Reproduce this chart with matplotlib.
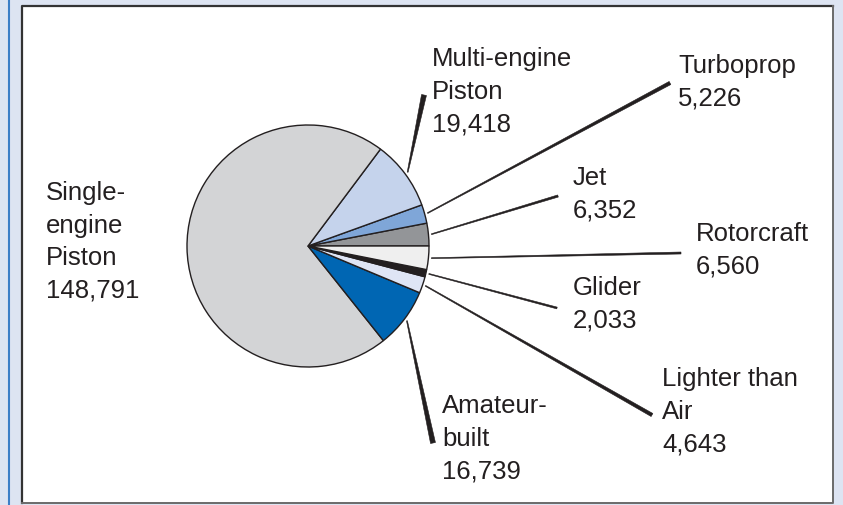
import numpy as np
import matplotlib
matplotlib.use("Agg")
import matplotlib.pyplot as plt
from matplotlib.patches import Rectangle, Polygon

# ---- data ----
categories = ["Jet", "Turboprop", "Multi-engine\nPiston", "Single-\nengine\nPiston",
              "Amateur-\nbuilt", "Lighter than\nAir", "Glider", "Rotorcraft"]
values = [6352, 5226, 19418, 148791, 16739, 4643, 2033, 6560]
value_labels = ["6,352", "5,226", "19,418", "148,791", "16,739", "4,643", "2,033", "6,560"]
colors = ["#939598", "#7fa6d8", "#c5d3ec", "#d3d4d6", "#0066b3", "#dfe5f5", "#231f20", "#efefef"]

# ---- layout (pixel coordinates, y measured from top) ----
W, H = 843, 505
center_px = (308, 246)
radius = 121
# label anchor: (x left, y of first-line cap top)
label_pos = [(573, 167), (678, 55), (432, 48), (46, 182),
             (442, 395), (662, 368), (573, 277), (696, 223)]
# leader end points (label side), None = no leader
leader_end = [(558, 196), (670, 83), (424, 95), None,
              (433, 443), (652, 415), (557, 308), (681, 253)]
leader_width = [2.2, 3.5, 5.0, 0, 5.0, 3.5, 1.8, 2.0]

TXT = "#231f20"
fig = plt.figure(figsize=(W / 100, H / 100), dpi=100)
fig.patch.set_facecolor("#dde4f2")
ax = fig.add_axes([0, 0, 1, 1])

def Y(y):
    return H - y

cx, cy = center_px[0], Y(center_px[1])
wedges, _ = ax.pie(values, colors=colors, startangle=0, counterclock=True,
                   center=(cx, cy), radius=radius, frame=True,
                   wedgeprops=dict(edgecolor="#231f20", linewidth=1.0))
for w in wedges:
    w.set_zorder(3)
ax.set_xlim(0, W)
ax.set_ylim(0, H)
ax.set_aspect("equal")
ax.axis("off")

# frame
ax.plot([8.5, 8.5], [0, H], color="#3c7ec6", lw=1.5, solid_capstyle="butt")
ax.add_patch(Rectangle((21.5, Y(503)), 833 - 21.5, 503 - 5.5, facecolor="white",
                       edgecolor="none", zorder=1))
ax.plot([21.5, 21.5, 833], [Y(503), Y(5.5), Y(5.5)], color="#333333", lw=1.6, zorder=2)
ax.plot([21.5, 833, 833], [Y(503), Y(503), Y(5.5)], color="#6a6a6a", lw=1.4, zorder=2)

total = sum(values)
ang = 0.0
for i, v in enumerate(values):
    span = 360.0 * v / total
    mid = np.deg2rad(ang + span / 2)
    ang += span
    # label
    lx, ly = label_pos[i]
    fs = 18.5
    base = Y(ly) - 18.4
    lines = categories[i].split("\n") + [value_labels[i]]
    for k, ln in enumerate(lines):
        ax.text(lx, base - k * 32.5, ln, fontsize=fs, family="Liberation Sans",
                color=TXT, ha="left", va="baseline", zorder=5)
    # leader
    if leader_end[i] is None:
        continue
    sx, sy = cx + 1.025 * radius * np.cos(mid), cy + 1.025 * radius * np.sin(mid)
    ex, ey = leader_end[i][0], Y(leader_end[i][1])
    d = np.array([ex - sx, ey - sy])
    d = d / np.linalg.norm(d)
    n = np.array([-d[1], d[0]])
    w0, w1 = 0.9, leader_width[i]
    pts = [(sx + n[0] * w0 / 2, sy + n[1] * w0 / 2),
           (ex + n[0] * w1 / 2, ey + n[1] * w1 / 2),
           (ex - n[0] * w1 / 2, ey - n[1] * w1 / 2),
           (sx - n[0] * w0 / 2, sy - n[1] * w0 / 2)]
    ax.add_patch(Polygon(pts, closed=True, facecolor=TXT, edgecolor=TXT, lw=0.4, zorder=4))

fig.savefig("out.png", dpi=100, facecolor=fig.get_facecolor())
